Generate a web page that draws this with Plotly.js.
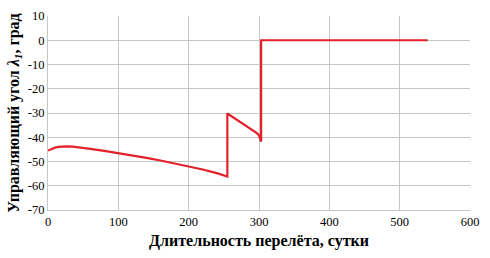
<!DOCTYPE html>
<html><head><meta charset="utf-8">
<script src="https://cdn.plot.ly/plotly-3.0.1.min.js"></script>
<style>body{margin:0;padding:0;background:#fff}#chart{width:490px;height:258px}</style>
</head><body><div id="chart"></div>
<script>
const days = [0, 5, 10, 15, 20, 26, 35, 45, 60, 80, 100, 120, 140, 160, 180, 200, 220, 240, 255, 255, 270, 285, 297, 300, 303, 303, 320, 400, 480, 540];
const angle = [-45.5, -44.8, -44.3, -44.0, -43.85, -43.8, -43.9, -44.2, -44.8, -45.6, -46.5, -47.4, -48.5, -49.6, -50.8, -52.0, -53.3, -54.8, -56.2, -30.2, -33.0, -35.9, -38.3, -39.2, -41.8, 0, 0, 0, 0, 0];
const xTicks = [0, 100, 200, 300, 400, 500, 600];
const yTicks = [10, 0, -10, -20, -30, -40, -50, -60, -70];
const serif = 'Liberation Serif';

Plotly.newPlot('chart', [{
  x: days, y: angle, type: 'scatter', mode: 'lines',
  line: {color: '#e3212b', width: 2.2},
  hoverinfo: 'skip'
}], {
  width: 490, height: 258,
  margin: {l: 48, r: 20, t: 16, b: 48},
  paper_bgcolor: '#fff', plot_bgcolor: '#fff',
  showlegend: false,
  font: {family: serif, color: '#000', size: 12},
  xaxis: {
    range: [0, 600], tickvals: xTicks, ticktext: xTicks.map(String),
    showgrid: true, gridcolor: '#c6c6c6', gridwidth: 1,
    zeroline: false, showline: true, linecolor: '#c6c6c6',
    ticks: '', tickfont: {size: 12.5, family: serif, color: '#000'},
    title: {text: 'Длительность перелёта, сутки', font: {size: 16, family: serif, weight: 'bold', color: '#000'}, standoff: 6}
  },
  yaxis: {
    range: [-70, 10], tickvals: yTicks, ticktext: yTicks.map(String),
    showgrid: true, gridcolor: '#c6c6c6', gridwidth: 1,
    zeroline: false, showline: true, linecolor: '#c6c6c6',
    ticks: '', tickfont: {size: 12.5, family: serif, color: '#000'},
    title: {text: 'Управляющий угол <i>λ<sub>1</sub></i>, град', font: {size: 16, family: serif, weight: 'bold', color: '#000'}, standoff: 4}
  }
}, {staticPlot: true, displayModeBar: false});
</script></body></html>
